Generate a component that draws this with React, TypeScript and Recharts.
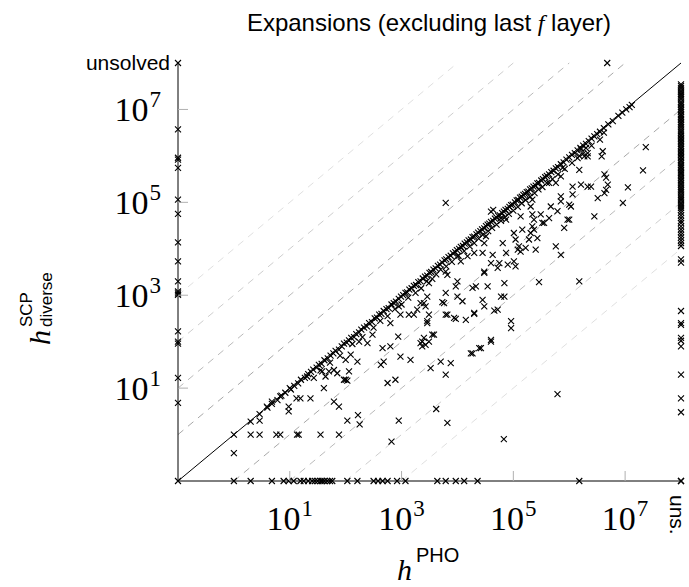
import React from "react";
import { ScatterChart, Scatter, XAxis, YAxis, ReferenceLine } from "recharts";

// all values are log10 of the number of expansions
const ZERO = -1; // h = 0 sits on the lower / left border
const UNS = 8; // unsolved sits on the upper / right border

const tickExps = [1, 3, 5, 7];
const bandOffsets = [1, 2, 3, 4];
const bandColors = ["#a8a8a8", "#bababa", "#cecece", "#e0e0e0"];

// h^PHO = 0
const leftEdgeY = [8, 6.57, 5.96, 5.92, 5.74, 5.06, 4.75, 4.14, 3.73, 3.3, 3.08, 3.04, 3.01, 2.22, 2.0, 1.96, 1.22, 0.68, -1];

// PHO unsolved
const rightEdgeY = [
  7.54, 7.5, 7.46, 7.41, 7.37, 7.33, 7.3, 7.26, 7.22, 7.17, 7.13, 7.1, 7.05, 7.02, 6.98, 6.95, 6.9, 6.87, 6.84, 6.8,
  6.77, 6.73, 6.7, 6.66, 6.62, 6.57, 6.53, 6.5, 6.46, 6.43, 6.39, 6.36, 6.33, 6.3, 6.26, 6.22, 6.18, 6.15, 6.11, 6.08,
  6.05, 6.02, 5.98, 5.95, 5.91, 5.88, 5.84, 5.8, 5.77, 5.74, 5.7, 5.66, 5.63, 5.6, 5.56, 5.52, 5.48, 5.45, 5.41, 5.38,
  5.34, 5.3, 5.26, 5.22, 5.17, 5.13, 5.09, 5.05, 5.0, 4.96, 4.92, 4.88, 4.83, 4.78, 4.72, 4.66, 4.6, 4.55, 4.48, 4.42,
  4.36, 4.3, 4.24, 4.18, 4.12, 4.06, 3.77, 3.7, 2.66, 2.4, 2.36, 2.08, 2.02, 1.9, 1.29, 0.78, 0.48, -1,
];

// h^SCP = 0
const bottomEdgeX = [
  0.0, 0.3, 0.68, 0.89, 0.98, 1.07, 1.19, 1.25, 1.33, 1.4, 1.45, 1.5, 1.55, 1.58, 1.62, 1.67, 1.72, 1.76, 2.03, 2.21,
  2.5, 2.58, 2.66, 2.75, 2.92, 3.07, 3.64, 3.79, 3.97, 4.12, 4.36, 6.18, 8,
];

// SCP unsolved
const topEdgeX = [6.68];

const nearDiagonal: [number, number][] = [
  [0, 0], [0.3, 0.28], [0.46, 0.44], [0.6, 0.58], [0.68, 0.66], [0.78, 0.74], [0.85, 0.84], [0.92, 0.9], [1.0, 1.0],
  [1.02, 0.97], [1.08, 1.05], [1.15, 1.1], [1.2, 1.18], [1.27, 1.22], [1.33, 1.3], [1.38, 1.35], [1.42, 1.4],
  [1.48, 1.44], [1.52, 1.5], [1.57, 1.52], [1.62, 1.6], [1.68, 1.64], [1.73, 1.7], [1.78, 1.75], [1.82, 1.8],
  [1.88, 1.83], [1.93, 1.9], [1.97, 1.96], [2.02, 1.98], [2.06, 2.03], [2.1, 2.08], [2.15, 2.1], [2.19, 2.16],
  [2.24, 2.2], [2.28, 2.26], [2.33, 2.3], [2.38, 2.33], [2.42, 2.4], [2.47, 2.42], [2.52, 2.5], [2.56, 2.52],
  [2.6, 2.58], [2.64, 2.6], [2.68, 2.66], [2.73, 2.7], [2.77, 2.72], [2.82, 2.8], [2.86, 2.83], [2.9, 2.86],
  [2.95, 2.92], [2.99, 2.97], [3.03, 3.0], [3.07, 3.05], [3.1, 3.06], [3.14, 3.12], [3.18, 3.15], [3.22, 3.2],
  [3.26, 3.22], [3.3, 3.28], [3.34, 3.3], [3.38, 3.36], [3.42, 3.4], [3.46, 3.42], [3.5, 3.48], [3.53, 3.5],
  [3.57, 3.55], [3.61, 3.58], [3.65, 3.63], [3.69, 3.66], [3.73, 3.7], [3.77, 3.75], [3.8, 3.77], [3.84, 3.82],
  [3.88, 3.85], [3.92, 3.9], [3.96, 3.93], [3.99, 3.97], [4.03, 4.0], [4.06, 4.04], [4.1, 4.06], [4.13, 4.11],
  [4.17, 4.14], [4.2, 4.18], [4.24, 4.2], [4.27, 4.25], [4.3, 4.26], [4.34, 4.31], [4.37, 4.35], [4.41, 4.38],
  [4.44, 4.42], [4.48, 4.44], [4.51, 4.49], [4.54, 4.52], [4.57, 4.54], [4.6, 4.58], [4.64, 4.6], [4.67, 4.65],
  [4.7, 4.67], [4.73, 4.71], [4.76, 4.72], [4.8, 4.77], [4.83, 4.8], [4.86, 4.84], [4.9, 4.86], [4.93, 4.9],
  [4.96, 4.94], [4.99, 4.95], [5.03, 5.0], [5.06, 5.04], [5.09, 5.05], [5.12, 5.1], [5.15, 5.12], [5.18, 5.16],
  [5.21, 5.18], [5.24, 5.22], [5.27, 5.23], [5.3, 5.28], [5.33, 5.3], [5.36, 5.34], [5.4, 5.36], [5.43, 5.41],
  [5.46, 5.42], [5.5, 5.47], [5.53, 5.5], [5.57, 5.54], [5.6, 5.57], [5.64, 5.6], [5.68, 5.65], [5.72, 5.68],
  [5.76, 5.73], [5.8, 5.76], [5.85, 5.82], [5.9, 5.86], [5.95, 5.92], [6.0, 5.97], [6.05, 6.02], [6.1, 6.06],
  [6.15, 6.12], [6.2, 6.17], [6.25, 6.22], [6.3, 6.26], [6.35, 6.32], [6.4, 6.37], [6.45, 6.42], [6.5, 6.47],
  [6.55, 6.52], [6.62, 6.6], [6.7, 6.68], [6.78, 6.75], [6.88, 6.86], [6.95, 6.93], [7.02, 7.0], [7.08, 7.05],
  [7.12, 7.1], [4.6, 4.8], [4.64, 4.84],
  // the thick part of the band, a little under the diagonal
  [1.55, 1.38], [1.72, 1.55], [1.9, 1.7], [2.12, 1.95], [2.3, 2.1], [2.5, 2.3], [2.62, 2.45], [2.75, 2.55],
  [2.88, 2.7], [3.0, 2.8], [3.12, 2.95], [3.25, 3.05], [3.35, 3.15], [3.45, 3.3], [3.55, 3.35], [3.62, 3.45],
  [3.7, 3.55], [3.8, 3.62], [3.9, 3.72], [4.02, 3.85], [4.12, 3.95], [4.22, 4.05], [4.3, 4.12], [4.38, 4.22],
  [4.45, 4.3], [4.55, 4.38], [4.62, 4.45], [4.7, 4.52], [4.78, 4.6], [4.85, 4.68], [4.92, 4.75], [5.0, 4.82],
  [5.08, 4.9], [5.15, 4.98], [5.22, 5.05], [5.3, 5.12], [5.38, 5.2], [5.45, 5.28], [5.52, 5.33], [5.6, 5.42],
  [5.7, 5.5], [5.8, 5.6], [5.92, 5.72], [6.05, 5.85], [6.15, 5.95], [6.25, 6.05], [6.4, 6.22], [6.55, 6.35],
];

const belowDiagonal: [number, number][] = [
  [0, -0.4], [0.3, 0], [0.46, 0], [0.46, 0.3], [0.59, 0.6], [0.76, 0], [0.83, 0], [0.68, 0.71], [0.83, 0.82],
  [0.98, 0.6], [0.98, 0.5], [1.13, 0], [1.16, 0], [1.12, 0.78], [1.19, 0.78], [1.37, 0.78], [1.31, 1.25],
  [1.43, 1.22], [1.55, 0], [1.61, 1.0], [1.64, 1.25], [1.58, 1.36], [1.7, 1.36], [1.79, 1.39], [1.85, 1.32],
  [1.97, 1.18], [1.79, 0.71], [1.88, 0.6], [1.88, 0], [2.0, 1.61], [2.0, 1.18], [2.03, 1.16], [2.06, 1.36],
  [2.09, 1.72], [2.21, 1.57], [2.39, 1.97], [2.24, 2.0], [2.48, 2.15], [2.63, 1.5], [2.68, 1.57], [2.66, 1.86],
  [2.8, 1.9], [2.75, 1.11], [2.89, 1.18], [2.8, 2.4], [2.95, 2.76], [2.98, 2.58], [2.94, 2.11], [3.16, 1.61],
  [2.98, 1.68], [3.13, 2.58], [3.22, 2.58], [3.28, 2.69], [3.34, 1.97], [3.4, 2.08], [3.37, 1.9], [3.46, 2.97],
  [3.49, 2.58], [3.46, 2.4], [3.58, 2.15], [3.4, 2.83], [3.43, 2.76], [3.49, 3.26], [3.7, 1.57], [3.88, 1.54],
  [3.79, 1.29], [3.76, 2.83], [3.82, 2.58], [3.79, 3.51], [3.82, 3.44], [4.0, 3.3], [3.97, 3.19], [4.0, 2.97],
  [4.09, 2.87], [3.94, 2.51], [4.15, 2.47], [4.0, 3.84], [4.06, 3.73], [4.18, 3.84], [4.27, 1.75], [4.42, 1.86],
  [4.3, 2.62], [4.45, 2.9], [4.48, 2.76], [4.27, 3.16], [4.33, 3.19], [4.54, 3.19], [4.48, 3.48], [4.6, 2.04],
  [4.6, 2.0], [4.6, 3.69], [4.63, 3.87], [4.3, 3.91], [4.45, 3.91], [4.48, 4.12], [4.51, 4.27], [4.78, 2.97],
  [4.72, 2.69], [4.84, 2.97], [3.52, 1.43], [3.37, 2.0], [3.43, 1.93], [3.49, 2.0], [3.55, 2.15], [3.46, 2.44],
  [3.34, 2.83], [3.79, 2.58], [3.97, 2.49], [4.3, 2.6], [3.73, 2.85], [3.79, 3.05], [4.24, 1.75], [4.39, 1.86],
  [6.18, 5.7], [7.05, 5.32], [6.96, 4.99], [6.45, 4.7], [6.0, 4.63], [5.91, 4.45], [5.76, 4.05], [5.85, 3.87],
  [5.46, 3.28], [6.18, 3.3], [4.84, 3.26], [4.66, 2.67], [4.96, 2.44], [4.96, 2.29], [5.79, 0.87], [7.37, 6.19],
  [7.32, 5.69], [6.51, 5.09], [6.63, 5.6], [6.66, 5.53], [6.69, 5.38], [6.66, 5.27], [6.63, 5.2], [6.06, 5.34],
  [6.21, 5.38], [6.33, 5.34], [6.39, 5.34], [6.06, 5.17], [5.85, 5.13], [5.85, 5.02], [6.0, 4.95], [6.03, 4.91],
  [5.67, 4.91], [5.79, 4.81], [5.97, 4.63], [5.52, 4.56], [5.55, 4.56], [5.37, 4.63], [5.34, 4.74], [5.49, 4.74],
  [5.64, 5.42], [5.76, 5.42], [5.85, 5.56], [5.88, 5.74], [5.34, 4.48], [5.31, 4.34], [5.37, 4.41], [5.43, 4.23],
  [5.28, 4.2], [5.01, 4.34], [5.04, 4.2], [5.16, 4.41], [5.1, 4.05], [4.81, 4.12], [4.87, 3.91], [5.08, 3.98],
  [5.13, 3.94], [5.22, 4.02], [5.4, 3.98], [4.75, 3.69], [4.9, 3.66], [5.01, 3.73], [5.04, 3.62], [4.48, 3.51],
  [4.72, 3.59], [5.13, 4.7], [5.64, 4.66], [5.34, 5.06], [5.31, 4.91], [4.78, 4.66], [4.87, 4.63], [6.58, 5.99],
  [6.6, 6.1], [6.18, 6.0], [6.21, 6.14], [6.3, 6.17], [6.33, 6.06], [6.27, 5.99], [6.33, 5.99], [6.62, 6.5],
  // sparse points far under the diagonal
  [2.03, 0.3], [2.22, 0.42], [2.25, 0.22], [2.82, -0.15], [2.95, 0.3], [3.62, 0.55], [3.82, 0.25], [4.83, -0.1],
];

const aboveDiagonal: [number, number][] = [[3.79, 4.99]];

const points = [
  ...leftEdgeY.map((y) => ({ x: ZERO, y })),
  ...rightEdgeY.map((y) => ({ x: UNS, y })),
  ...bottomEdgeX.map((x) => ({ x, y: ZERO })),
  ...topEdgeX.map((x) => ({ x, y: UNS })),
  ...nearDiagonal.map(([x, y]) => ({ x, y })),
  ...belowDiagonal.map(([x, y]) => ({ x, y })),
  ...aboveDiagonal.map(([x, y]) => ({ x, y })),
];

const SERIF = "'Liberation Serif', serif";
const SANS = "'Liberation Sans', sans-serif";

const Cross = (props: any) => {
  const { cx, cy } = props;
  const d = `M${cx - 3},${cy - 3}L${cx + 3},${cy + 3}M${cx - 3},${cy + 3}L${cx + 3},${cy - 3}`;
  return <path d={d} stroke="#000" strokeWidth={1.1} fill="none" />;
};

const Pow = ({ exp }: { exp: number }) => (
  <>
    <tspan>10</tspan>
    <tspan dy={-14} dx={1} fontSize={23}>{exp}</tspan>
  </>
);

const BottomTick = (props: any) => {
  const { x, y, payload } = props;
  if (payload.value === UNS) {
    return (
      <text x={x} y={y + 14} transform={`rotate(90 ${x} ${y + 14})`} dy={11} fontFamily={SANS} fontSize={21} fill="#000" textAnchor="start">
        uns.
      </text>
    );
  }
  return (
    <g>
      <line x1={x} y1={y} x2={x} y2={y - 10} stroke="#b0b0b0" />
      <text x={x} y={y + 49} fontFamily={SERIF} fontSize={34} textAnchor="middle" fill="#000">
        <Pow exp={payload.value} />
      </text>
    </g>
  );
};

const LeftTick = (props: any) => {
  const { x, y, payload } = props;
  if (payload.value === UNS) {
    return (
      <text x={x - 8} y={y + 7} fontFamily={SANS} fontSize={21} textAnchor="end" fill="#000">
        unsolved
      </text>
    );
  }
  return (
    <g>
      <line x1={x} y1={y} x2={x + 10} y2={y} stroke="#b0b0b0" />
      <text x={x - 17} y={y + 12} fontFamily={SERIF} fontSize={34} textAnchor="end" fill="#000">
        <Pow exp={payload.value} />
      </text>
    </g>
  );
};

const TopTick = (props: any) => {
  const { x, y } = props;
  return <line x1={x} y1={y} x2={x} y2={y + 10} stroke="#b0b0b0" />;
};

const RightTick = (props: any) => {
  const { x, y } = props;
  return <line x1={x} y1={y} x2={x - 10} y2={y} stroke="#b0b0b0" />;
};

export default function App() {
  const W = 689;
  const H = 587;
  return (
    <div style={{ position: "absolute", left: 0, top: 0, width: W, height: H, background: "#fff" }}>
      <ScatterChart width={W} height={H} margin={{ top: 63, right: 8, bottom: 76, left: 8 }}>
        <XAxis
          type="number"
          dataKey="x"
          domain={[ZERO, UNS]}
          ticks={[...tickExps, UNS]}
          interval={0}
          height={30}
          tickSize={0}
          tickMargin={0}
          tickLine={false}
          axisLine={{ stroke: "#000" }}
          tick={<BottomTick />}
        />
        <XAxis
          xAxisId="top"
          orientation="top"
          type="number"
          dataKey="x"
          domain={[ZERO, UNS]}
          ticks={tickExps}
          height={0}
          tickSize={0}
          tickMargin={0}
          tickLine={false}
          axisLine={{ stroke: "#a0a0a0" }}
          tick={<TopTick />}
        />
        <YAxis
          type="number"
          dataKey="y"
          domain={[ZERO, UNS]}
          ticks={[...tickExps, UNS]}
          interval={0}
          width={170}
          tickSize={0}
          tickMargin={0}
          tickLine={false}
          axisLine={{ stroke: "#000" }}
          tick={<LeftTick />}
        />
        <YAxis
          yAxisId="right"
          orientation="right"
          type="number"
          dataKey="y"
          domain={[ZERO, UNS]}
          ticks={tickExps}
          width={0}
          tickSize={0}
          tickMargin={0}
          tickLine={false}
          axisLine={{ stroke: "#a0a0a0" }}
          tick={<RightTick />}
        />
        {bandOffsets.map((k, i) => (
          <ReferenceLine
            key={`up${k}`}
            segment={[{ x: ZERO, y: ZERO + k }, { x: UNS - k, y: UNS }]}
            stroke={bandColors[i]}
            strokeDasharray="7 6"
          />
        ))}
        {bandOffsets.map((k, i) => (
          <ReferenceLine
            key={`dn${k}`}
            segment={[{ x: ZERO + k, y: ZERO }, { x: UNS, y: UNS - k }]}
            stroke={bandColors[i]}
            strokeDasharray="7 6"
          />
        ))}
        <ReferenceLine segment={[{ x: ZERO, y: ZERO }, { x: UNS, y: UNS }]} stroke="#000" strokeWidth={1} />
        <Scatter data={points} shape={<Cross />} isAnimationActive={false} />
      </ScatterChart>
      <svg width={W} height={H} style={{ position: "absolute", left: 0, top: 0, pointerEvents: "none" }}>
        <text x={429} y={31} textAnchor="middle" fontFamily={SANS} fontSize={24} fill="#000">
          Expansions (excluding last <tspan fontFamily={SERIF} fontStyle="italic">f</tspan> layer)
        </text>
        <text x={397} y={580} fontFamily={SERIF} fontStyle="italic" fontSize={30} fill="#000">
          h
        </text>
        <text x={416} y={562} fontFamily={SANS} fontSize={20} fill="#000">
          PHO
        </text>
        <g transform="translate(50,345) rotate(-90)">
          <text x={0} y={0} fontFamily={SERIF} fontStyle="italic" fontSize={30} fill="#000">
            h
          </text>
          <text x={18} y={-18} fontFamily={SANS} fontSize={17} fill="#000">
            SCP
          </text>
          <text x={18} y={2} fontFamily={SANS} fontSize={17} fill="#000">
            diverse
          </text>
        </g>
      </svg>
    </div>
  );
}
